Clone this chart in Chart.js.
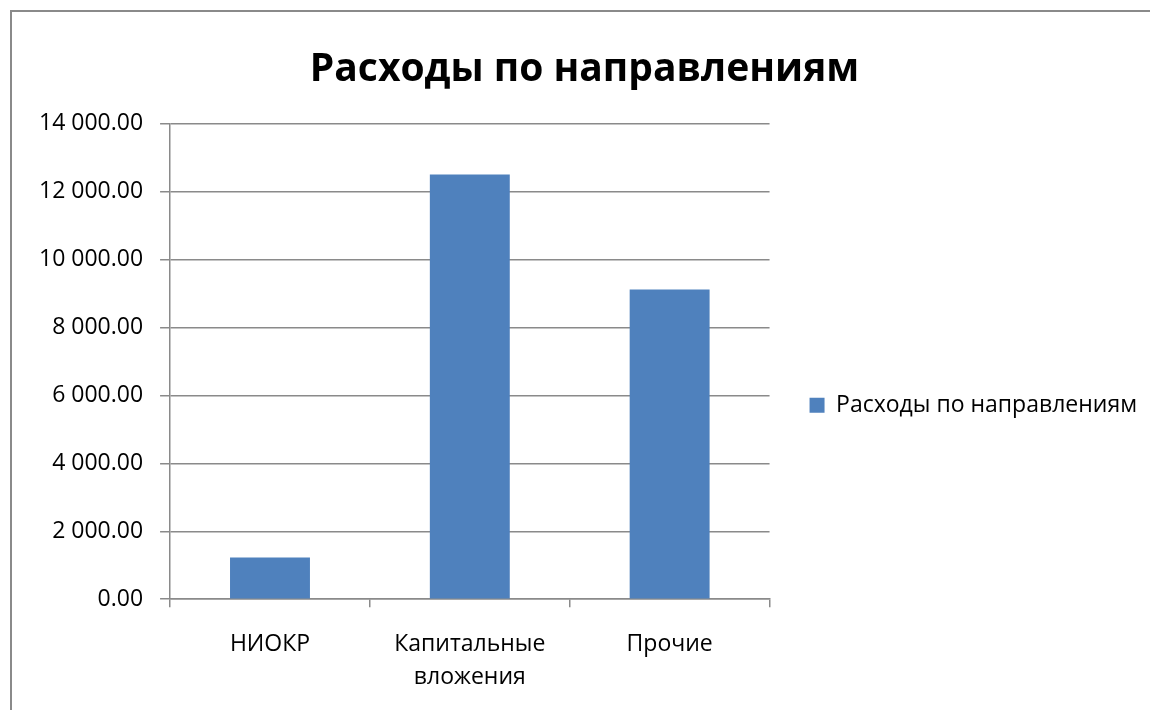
<!DOCTYPE html>
<html lang="ru">
<head>
  <meta charset="UTF-8" />
  <title>Расходы по направлениям</title>
  <script src="https://cdn.jsdelivr.net/npm/chart.js"></script>
  <style>
    body { margin: 0; background: #fff; font-family: 'Open Sans', sans-serif; }
    #wrap { position: relative; width: 1150px; height: 710px; }
    #frame {
      position: absolute; left: 10px; top: 10px; width: 1200px; height: 760px;
      border-left: 2px solid #8a8a8a; border-top: 2px solid #8a8a8a;
    }
  </style>
</head>
<body>
  <div id="wrap">
    <div id="frame"></div>
    <canvas id="chart"></canvas>
  </div>

  <script>
    const categories = [["НИОКР"], ["Капитальные", "вложения"], ["Прочие"]];
    const seriesName = "Расходы по направлениям";
    const values = [1230, 12510, 9120];
    const yMax = 14000;
    const yStep = 2000;

    const fontFamily = "'Open Sans', Calibri, sans-serif";

    function fmt(v) {
      const parts = Number(v).toFixed(2).split(".");
      return parts[0].replace(/\B(?=(\d{3})+(?!\d))/g, " ") + "." + parts[1];
    }

    function draw() {
      new Chart(document.getElementById("chart"), {
        type: "bar",
        data: {
          labels: categories,
          datasets: [{
            label: seriesName,
            data: values,
            backgroundColor: "#4f81bd",
            borderWidth: 0,
            barPercentage: 0.4,
            categoryPercentage: 1.0
          }]
        },
        options: {
          responsive: true,
          maintainAspectRatio: false,
          animation: false,
          layout: { padding: { left: 22, right: 3, top: 16, bottom: -5 } },
          plugins: {
            title: {
              display: true,
              text: "Расходы по направлениям",
              color: "#000",
              font: { family: fontFamily, size: 39, weight: "bold", lineHeight: 1.2 },
              padding: { top: 30, bottom: 31 }
            },
            legend: {
              position: "right",
              maxWidth: 420,
              // empty title only pushes the single item down to the reference height
              title: {
                display: true,
                text: " ",
                font: { family: fontFamily, size: 23 },
                padding: { top: 26, bottom: 26 }
              },
              labels: {
                color: "#000",
                boxWidth: 15,
                boxHeight: 15,
                padding: 40,
                font: { family: fontFamily, size: 23 }
              }
            },
            tooltip: { enabled: false }
          },
          scales: {
            x: {
              offset: true,
              grid: {
                offset: true,
                drawOnChartArea: false,
                drawTicks: true,
                tickLength: 8,
                color: "#8a8a8a",
                lineWidth: 1.5
              },
              border: { color: "#8a8a8a", width: 1.5 },
              ticks: {
                color: "#000",
                padding: 21,
                maxRotation: 0,
                font: { family: fontFamily, size: 23, lineHeight: 1.43 }
              }
            },
            y: {
              min: 0,
              max: yMax,
              ticks: {
                stepSize: yStep,
                color: "#000",
                padding: 17,
                font: { family: fontFamily, size: 23 },
                callback: v => fmt(v)
              },
              grid: {
                color: "#8a8a8a",
                lineWidth: 1.5,
                tickLength: 10
              },
              border: { color: "#8a8a8a", width: 1.5 }
            }
          }
        }
      });
    }

    Promise.all([
      document.fonts.load("23px 'Open Sans'"),
      document.fonts.load("bold 39px 'Open Sans'")
    ]).then(draw, draw);
  </script>
</body>
</html>
